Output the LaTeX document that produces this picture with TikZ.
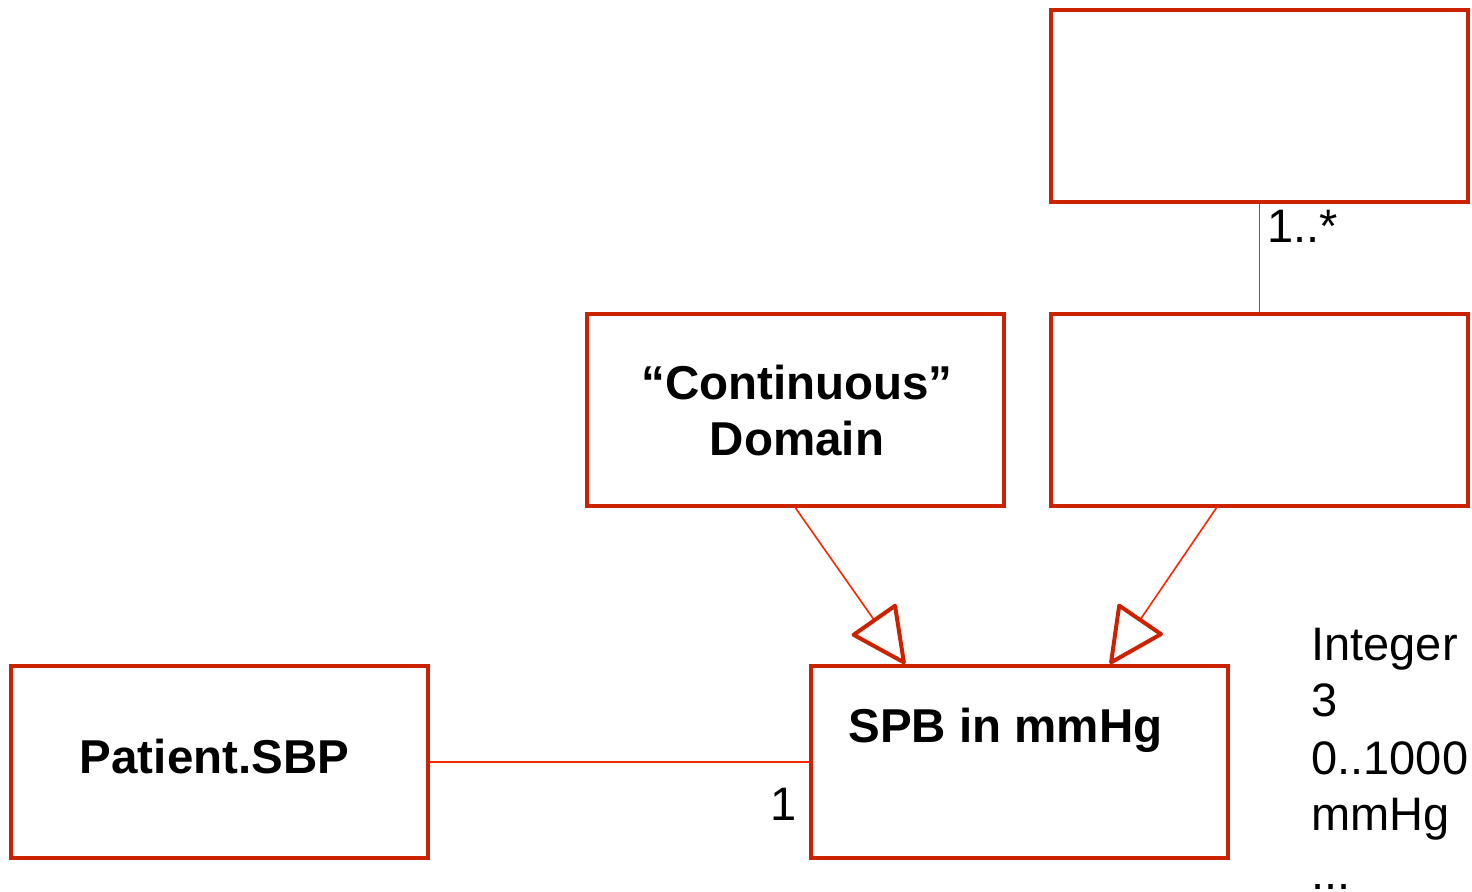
\documentclass[tikz,border=0pt]{standalone}
\usepackage{fontspec}
\setmainfont{Liberation Sans}
\usetikzlibrary{arrows.meta}
\definecolor{boxred}{RGB}{204,34,0}
\definecolor{linered}{RGB}{245,40,0}
\tikzset{
  umlbox/.style={draw=boxred, line width=2pt, minimum width=208.5pt, minimum height=96pt, inner sep=0pt, fill=white},
  conn/.style={draw=linered, line width=0.8pt},
  gen/.style={conn, -{Triangle[open, length=29pt, width=28pt, line width=2pt, color=boxred, round]}},
  bold/.style={font=\fontsize{23.75pt}{28pt}\selectfont\bfseries},
  reg/.style={font=\fontsize{23.5pt}{28pt}\selectfont, inner sep=0pt}
}
\begin{document}
\begin{tikzpicture}[x=0.5pt, y=-0.5pt]
\useasboundingbox (0,0) rectangle (1472,892);
\node[umlbox] (top) at (1259.5,106) {};
\node[umlbox] (mid) at (1259.5,410) {};
\node[umlbox] (cd) at (795.5,410) {};
\node[umlbox] (spb) at (1019.5,762) {};
\node[umlbox] (pat) at (219.5,762) {};

\node[bold, anchor=base, inner sep=0pt] (cdt1) at (797,400) {“Continuous”};
\node[bold, anchor=base, inner sep=0pt] (cdt2) at (797,456) {Domain};
\node[bold, anchor=base, inner sep=0pt] (spbt) at (1005.5,742) {SPB in mmHg};
\node[bold, anchor=base, inner sep=0pt] (patt) at (214.5,773) {Patient.SBP};

\coordinate (m1) at (1217,507);
\coordinate (t1) at (905,664);
\coordinate (t2) at (1110,664);

\draw[conn] (top.south) -- (mid.north);
\draw[conn] (pat.east) -- (spb.west);
\draw[gen] (cd.south) -- (t1);
\draw[gen] (m1) -- (t2);

\node[reg, anchor=base west] (mult1) at (1267,243) {1..*};
\node[reg, anchor=base west] (mult2) at (770,820) {1};

\node[reg, anchor=base west] (l1) at (1311,660) {Integer};
\node[reg, anchor=base west] (l2) at (1311,716) {3};
\node[reg, anchor=base west] (l3) at (1311,774) {0..1000};
\node[reg, anchor=base west] (l4) at (1311,830) {mmHg};
\node[reg, anchor=base west] (l5) at (1311,889) {...};
\end{tikzpicture}
\end{document}
